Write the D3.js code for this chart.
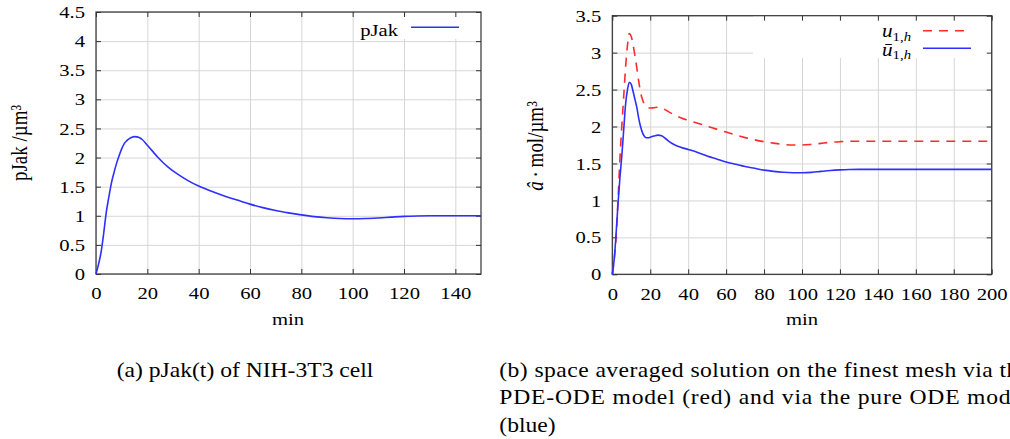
<!DOCTYPE html>
<html>
<head>
<meta charset="utf-8">
<script src="https://cdn.jsdelivr.net/npm/d3@7"></script>
<style>
body { margin: 0; background: #fff; }
svg { display: block; font-family: 'Liberation Serif', 'Times New Roman', serif; }
.grid line { stroke: #d6d6d6; stroke-width: 1; }
.grid path, .ticks path { display: none; }
.ticks line { stroke: #333; stroke-width: 1; }
.ticks text { font-family: 'Liberation Serif', serif; font-size: 17.5px; fill: #000; }
</style>
</head>
<body>
<svg id="fig" width="1010" height="439"></svg>
<script>
// DATA (a) pJak over time
var timeA = [0,1,2,3,4,5,6,7,8,9,10,11,12,13,14,15,16,17,18,
	20,22,24,26,28,30,33,36,40,
	45,50,55,60,65,70,75,80,85,90,95,100,105,110,115,120,125,130,140,150];
var pJak = [0,0.17,0.38,0.7,1.06,1.32,1.56,1.74,1.9,2.03,2.15,2.24,2.29,2.325,2.35,2.36,2.355,2.34,2.31,
	2.21,2.11,2.01,1.92,1.84,1.77,1.68,1.6,1.51,
	1.42,1.34,1.27,1.2,1.14,1.09,1.05,1.015,0.985,0.965,0.952,0.948,0.952,0.963,0.977,0.99,0.997,1.0,1.0,1.0];

// DATA (b) space averaged solutions
var timeB = [0,1,2,3,4,5,6,7,8,9,10,11,12,13,14,15,16,17,18,19,20,
	22,24,26,28,30,33,36,40,
	45,50,55,60,65,70,75,80,85,90,95,100,105,110,115,120,125,130,140,160,180,200];
// u_1,h  (PDE-ODE, red)
var uPde = [0,0.2,0.5,1.0,1.55,2.0,2.4,2.8,3.1,3.26,3.22,3.1,2.95,2.78,2.6,2.45,2.36,2.3,2.27,2.255,2.25,
	2.255,2.26,2.25,2.225,2.195,2.155,2.12,2.085,
	2.045,2.005,1.965,1.925,1.885,1.85,1.82,1.795,1.775,1.758,1.75,1.75,1.758,1.772,1.786,1.795,1.8,1.8,1.8,1.8,1.8,1.8];
// ubar_1,h  (pure ODE, blue)
var uOde = [0,0.2,0.55,0.95,1.3,1.6,1.95,2.3,2.5,2.6,2.57,2.47,2.36,2.25,2.1,1.99,1.91,1.865,1.848,1.848,1.856,
	1.872,1.884,1.875,1.838,1.795,1.75,1.72,1.69,
	1.65,1.6,1.56,1.52,1.49,1.46,1.435,1.41,1.393,1.381,1.375,1.375,1.38,1.393,1.405,1.413,1.418,1.42,1.42,1.42,1.42,1.42];

// TICKS
var xTicksA = [0,20,40,60,80,100,120,140];
var yTicksA = [0,0.5,1,1.5,2,2.5,3,3.5,4,4.5];
var xTicksB = [0,20,40,60,80,100,120,140,160,180,200];
var yTicksB = [0,0.5,1,1.5,2,2.5,3,3.5];

var RED = '#ff2b2b', BLUE = '#2f2fff';
var SX = 1.18; // the source figure is stretched sideways a bit
var fmt = d3.format('');

var svg = d3.select('#fig');

// SCALES
var xA = d3.scaleLinear().domain([0, 150]).range([96, 481]);
var yA = d3.scaleLinear().domain([0, 4.5]).range([274, 12]);
var xB = d3.scaleLinear().domain([0, 200]).range([612.3, 991.7]);
var yB = d3.scaleLinear().domain([0, 3.5]).range([274.3, 15.7]);

// put a stretched text at (x,y)
function label(str, x, y, size, anchor) {
	return svg.append('text')
		.attr('transform', 'translate(' + x + ',' + y + ') scale(' + SX + ',1)')
		.attr('font-size', size)
		.attr('text-anchor', anchor || 'start')
		.text(str);
}

function panel(x, y, xTicks, yTicks, key) {
	var x0 = x.range()[0], x1 = x.range()[1],
		y0 = y.range()[0], y1 = y.range()[1];

	// grid
	svg.append('g').attr('class', 'grid')
		.attr('transform', 'translate(0,' + y0 + ')')
		.call(d3.axisBottom(x).tickValues(xTicks).tickSize(-(y0 - y1)).tickFormat(''));
	svg.append('g').attr('class', 'grid')
		.attr('transform', 'translate(' + x0 + ',0)')
		.call(d3.axisLeft(y).tickValues(yTicks).tickSize(-(x1 - x0)).tickFormat(''));

	// opaque key box
	svg.append('rect')
		.attr('x', key[0]).attr('y', y1)
		.attr('width', x1 - key[0]).attr('height', key[1] - y1)
		.attr('fill', '#fff');

	// border
	svg.append('rect')
		.attr('x', x0).attr('y', y1)
		.attr('width', x1 - x0).attr('height', y0 - y1)
		.attr('fill', 'none').attr('stroke', '#333').attr('stroke-width', 1.2);

	// ticks, inward on all sides
	svg.append('g').attr('class', 'ticks')
		.attr('transform', 'translate(0,' + y0 + ')')
		.call(d3.axisBottom(x).tickValues(xTicks).tickFormat(fmt)
			.tickSizeInner(-5).tickSizeOuter(0).tickPadding(13))
		.selectAll('text').attr('transform', 'scale(' + SX + ',1)');
	svg.append('g').attr('class', 'ticks')
		.attr('transform', 'translate(' + x0 + ',0)')
		.call(d3.axisLeft(y).tickValues(yTicks).tickFormat(fmt)
			.tickSizeInner(-5).tickSizeOuter(0).tickPadding(9.3))
		.selectAll('text').attr('transform', 'scale(' + SX + ',1)');
	svg.append('g').attr('class', 'ticks')
		.attr('transform', 'translate(0,' + y1 + ')')
		.call(d3.axisTop(x).tickValues(xTicks).tickSizeInner(-5).tickSizeOuter(0).tickFormat(''));
	svg.append('g').attr('class', 'ticks')
		.attr('transform', 'translate(' + x1 + ',0)')
		.call(d3.axisRight(y).tickValues(yTicks).tickSizeInner(-5).tickSizeOuter(0).tickFormat(''));
}

function curve(x, y, ts, vs, color, dash) {
	var line = d3.line()
		.x(function(d, i) { return x(ts[i]); })
		.y(function(d) { return y(d); })
		.curve(d3.curveMonotoneX);
	svg.append('path')
		.attr('d', line(vs))
		.attr('fill', 'none')
		.attr('stroke', color)
		.attr('stroke-width', 1.6)
		.attr('stroke-dasharray', dash || null);
}

// PANEL (a)
panel(xA, yA, xTicksA, yTicksA, [355, 39]);
curve(xA, yA, timeA, pJak, BLUE);
label('min', 288, 325, 17.5, 'middle');
svg.append('text')
	.attr('transform', 'translate(27,143) scale(' + SX + ',1) rotate(-90)')
	.attr('font-size', 19).attr('text-anchor', 'middle')
	.text('pJak /\u00b5m\u00b3');
label('pJak', 398, 36, 17.5, 'end');
svg.append('line').attr('x1', 411).attr('x2', 459).attr('y1', 27.3).attr('y2', 27.3)
	.attr('stroke', BLUE).attr('stroke-width', 1.6);

// PANEL (b)
panel(xB, yB, xTicksB, yTicksB, [753, 58]);
curve(xB, yB, timeB, uPde, RED, '9,7');
curve(xB, yB, timeB, uOde, BLUE);
label('min', 802, 325, 17.5, 'middle');
var yl = svg.append('text')
	.attr('transform', 'translate(543,146) scale(' + SX + ',1) rotate(-90)')
	.attr('font-size', 19).attr('text-anchor', 'middle');
yl.append('tspan').attr('font-style', 'italic').text('\u00e2');
yl.append('tspan').text('\u2009\u00b7\u2009mol/\u00b5m\u00b3');

// legend (b)
var keyText = [['u', 37], ['\u016b', 55.5]];
keyText.forEach(function(k) {
	var t = svg.append('text')
		.attr('transform', 'translate(911,' + k[1] + ') scale(' + SX + ',1)')
		.attr('font-size', 18).attr('text-anchor', 'end');
	t.append('tspan').attr('font-style', 'italic').text(k[0]);
	t.append('tspan').attr('font-size', 12.5).attr('dy', 3.5).text('1,');
	t.append('tspan').attr('font-size', 12.5).attr('font-style', 'italic').text('h');
});
svg.append('line').attr('x1', 923).attr('x2', 971).attr('y1', 30.7).attr('y2', 30.7)
	.attr('stroke', RED).attr('stroke-width', 1.6).attr('stroke-dasharray', '9,7');
svg.append('line').attr('x1', 923).attr('x2', 971).attr('y1', 48.3).attr('y2', 48.3)
	.attr('stroke', BLUE).attr('stroke-width', 1.6);

// CAPTIONS
label('(a) pJak(t) of NIH-3T3 cell', 116.7, 376.7, 20);
var capB = [
	'(b) space averaged solution on the finest mesh via the',
	'PDE-ODE model (red) and via the pure ODE model',
	'(blue)'
];
capB.forEach(function(s, i) {
	var t = label(s, 499.3, 376.7 + i * 27.5, 20);
	// justified lines: stretch to the column width
	if (i < 2) t.attr('textLength', 530 / SX).attr('lengthAdjust', 'spacing');
});
</script>
</body>
</html>
